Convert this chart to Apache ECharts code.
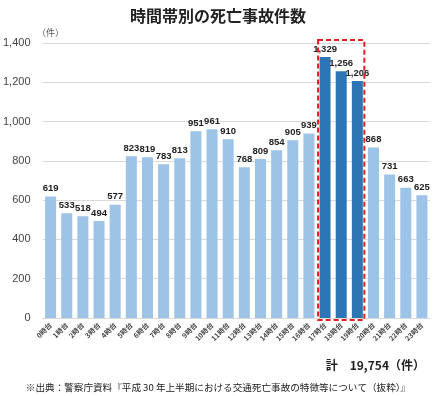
<!DOCTYPE html>
<html><head><meta charset="utf-8">
<script src="https://cdn.jsdelivr.net/npm/echarts@6/dist/echarts.min.js"></script>
<style>html,body{margin:0;padding:0;background:#fff}#c{width:436px;height:396px}</style>
</head><body><div id="c"></div>
<script>
const categories = ['0時台','1時台','2時台','3時台','4時台','5時台','6時台','7時台','8時台','9時台','10時台','11時台','12時台','13時台','14時台','15時台','16時台','17時台','18時台','19時台','20時台','21時台','22時台','23時台'];
const values = [619,533,518,494,577,823,819,783,813,951,961,910,768,809,854,905,939,1329,1256,1206,868,731,663,625];
const highlighted = ['17時台','18時台','19時台'];
const yTicks = [0,200,400,600,800,1000,1200,1400];

const font = '"Noto Sans CJK JP", "Noto Sans", sans-serif';
const chart = echarts.init(document.getElementById('c'));
chart.setOption({
  animation: false,
  title: [
    {text:'時間帯別の死亡事故件数', left:'center', top:3, textStyle:{fontSize:16, fontWeight:'bold', color:'#222', fontFamily:font}},
    {text:'（件）', left:32, top:23, textStyle:{fontSize:9, fontWeight:'normal', color:'#555', fontFamily:font}},
    {text:'計　19,754（件）', right:6, top:354, textStyle:{fontSize:12, fontWeight:'bold', color:'#222', fontFamily:font}},
    {text:'※出典：警察庁資料『平成 30 年上半期における交通死亡事故の特徴等について（抜粋）』', left:'center', top:378, textStyle:{fontSize:9.6, fontWeight:'normal', color:'#222', fontFamily:font}}
  ],
  grid: {left:42, right:6, top:43, bottom:78},
  xAxis: {
    type:'category', data:categories,
    axisLine:{lineStyle:{color:'#d9d9d9'}}, axisTick:{show:false},
    axisLabel:{rotate:45, fontSize:7, fontWeight:'bold', color:'#444', interval:0, fontFamily:font, margin:6}
  },
  yAxis: {
    type:'value', min:yTicks[0], max:yTicks[yTicks.length-1], interval:200,
    axisLabel:{fontSize:11, color:'#444', margin:12, fontFamily:'"Liberation Sans", sans-serif',
      formatter:v=>v.toLocaleString('en-US')},
    splitLine:{lineStyle:{color:'#d9d9d9'}}, axisLine:{show:false}, axisTick:{show:false}
  },
  series: [{
    type:'bar', barWidth:11,
    data: values.map((v,i)=>({value:v, itemStyle:{color: highlighted.includes(categories[i]) ? '#2E75B6' : '#9DC3E6'}})),
    label:{show:true, position:'top', fontSize:9.5, fontWeight:'bold', color:'#222', distance:3,
      fontFamily:'"Liberation Sans", sans-serif', formatter:p=>p.value.toLocaleString('en-US')}
  }]
});

function drawBox(){
  const a = chart.convertToPixel({xAxisIndex:0}, highlighted[0]);
  const b = chart.convertToPixel({xAxisIndex:0}, highlighted[highlighted.length-1]);
  const top = chart.convertToPixel({yAxisIndex:0}, yTicks[yTicks.length-1]);
  const bot = chart.convertToPixel({yAxisIndex:0}, yTicks[0]);
  chart.setOption({graphic:[{type:'rect', shape:{x:a-7, y:top-3, width:(b-a)+14, height:(bot-top)+5},
    style:{fill:'none', stroke:'#e02020', lineWidth:2, lineDash:[5,3]}, z:10}]});
}
drawBox();
</script></body></html>
